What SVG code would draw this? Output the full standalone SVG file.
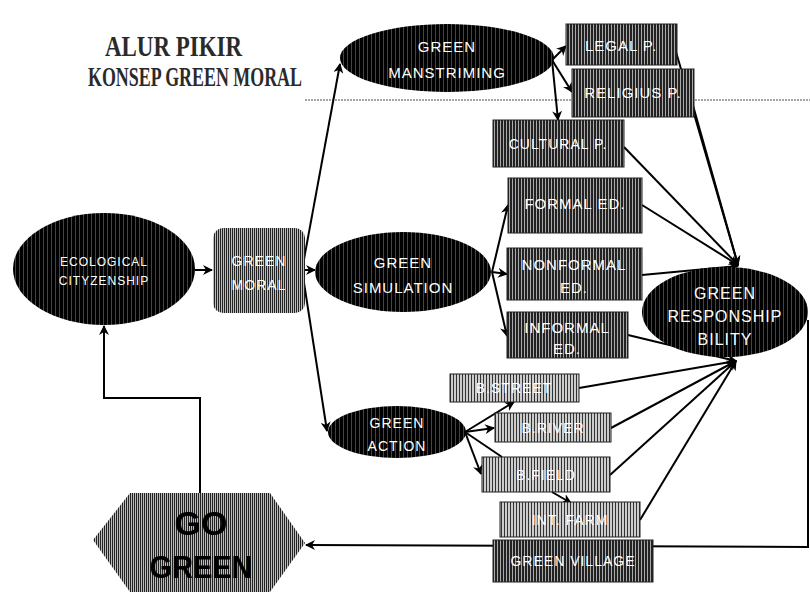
<svg xmlns="http://www.w3.org/2000/svg" width="810" height="611" viewBox="0 0 810 611">
<style>
.ln{stroke:#000;stroke-width:2;fill:none}
.ar{marker-end:url(#ah)}
.wt{fill:#fff;font-family:"Liberation Sans",Arial,sans-serif;text-anchor:middle;letter-spacing:1px}
.bx{stroke:#222;stroke-width:1}
</style>
<defs>
<marker id="ah" viewBox="0 0 10 10" refX="9" refY="5" markerWidth="10" markerHeight="10" markerUnits="userSpaceOnUse" orient="auto">
<path d="M0,0 L10,5 L0,10 L3,5 Z" fill="#000"/>
</marker>
<pattern id="pBlack" width="4" height="4" patternUnits="userSpaceOnUse">
<rect width="4" height="4" fill="#000"/><rect x="3" width="1" height="4" fill="#444"/>
</pattern>
<pattern id="pDark" width="3" height="3" patternUnits="userSpaceOnUse">
<rect width="3" height="3" fill="#aaa"/><rect width="2" height="3" fill="#222"/>
</pattern>
<pattern id="pMid" width="2" height="2" patternUnits="userSpaceOnUse">
<rect width="2" height="2" fill="#bbb"/><rect width="1" height="2" fill="#222"/>
</pattern>
<pattern id="pLight" width="3" height="3" patternUnits="userSpaceOnUse">
<rect width="3" height="3" fill="#ccc"/><rect width="1" height="3" fill="#333"/>
</pattern>
</defs>
<rect width="810" height="611" fill="#fff"/>
<line x1="305" y1="100" x2="810" y2="100" stroke="#888" stroke-width="1.5" stroke-dasharray="2,1"/>

<g id="title" fill="#2a2a2a" font-family="'Liberation Serif','Times New Roman',serif" font-weight="bold">
<text transform="translate(105,56) scale(1,1.35)" font-size="22" textLength="137" lengthAdjust="spacingAndGlyphs">ALUR PIKIR</text>
<text transform="translate(88,86) scale(1,1.5)" font-size="18" textLength="214" lengthAdjust="spacingAndGlyphs">KONSEP GREEN MORAL</text>
</g>

<g id="connectors">
<line class="ln ar" x1="195" y1="270" x2="212" y2="270"/>
<line class="ln ar" x1="305" y1="270" x2="315" y2="270"/>
<line class="ln ar" x1="302" y1="270" x2="340" y2="64"/>
<line class="ln ar" x1="302" y1="270" x2="327" y2="431"/>
<line class="ln ar" x1="552" y1="60" x2="566" y2="46"/>
<line class="ln ar" x1="552" y1="60" x2="572" y2="92"/>
<line class="ln ar" x1="552" y1="60" x2="558" y2="120"/>
<line class="ln ar" x1="492" y1="272" x2="508" y2="205"/>
<line class="ln ar" x1="492" y1="272" x2="507" y2="274"/>
<line class="ln ar" x1="492" y1="272" x2="507" y2="336"/>
<line class="ln ar" x1="674" y1="45" x2="738" y2="265"/>
<line class="ln ar" x1="692" y1="102" x2="738" y2="265"/>
<line class="ln ar" x1="624" y1="147" x2="738" y2="265"/>
<line class="ln ar" x1="642" y1="205" x2="738" y2="265"/>
<line class="ln ar" x1="642" y1="275" x2="738" y2="266"/>
<line class="ln ar" x1="628" y1="335" x2="736" y2="361"/>
<line class="ln ar" x1="579" y1="388" x2="736" y2="361"/>
<line class="ln ar" x1="611" y1="428" x2="736" y2="361"/>
<line class="ln ar" x1="610" y1="475" x2="736" y2="361"/>
<line class="ln ar" x1="640" y1="520" x2="736" y2="361"/>
<line class="ln ar" x1="465" y1="432" x2="514" y2="402"/>
<line class="ln ar" x1="465" y1="432" x2="494" y2="428"/>
<line class="ln" x1="465" y1="432" x2="502" y2="457"/>
<line class="ln ar" x1="465" y1="432" x2="481" y2="474"/>
<line class="ln ar" x1="552" y1="492" x2="571" y2="503"/>
<polyline class="ln ar" points="808,320 808,547 306,545"/>
<polyline class="ln ar" points="200,493 200,398 104,398 104,326"/>
</g>

<g id="eco">
<ellipse cx="104" cy="269" rx="91" ry="56" fill="url(#pBlack)"/>
<text class="wt" x="104" y="266" font-size="12">ECOLOGICAL</text>
<text class="wt" x="104" y="285" font-size="12">CITYZENSHIP</text>
</g>

<g id="greenmoral">
<rect x="213" y="228" width="92" height="85" rx="10" fill="url(#pMid)"/>
<text class="wt" x="259" y="266" font-size="14">GREEN</text>
<text class="wt" x="259" y="290" font-size="14">MORAL</text>
</g>

<g id="mainstriming">
<ellipse cx="447" cy="58" rx="107" ry="34" fill="url(#pBlack)"/>
<text class="wt" x="447" y="52" font-size="15">GREEN</text>
<text class="wt" x="447" y="78" font-size="15">MANSTRIMING</text>
</g>

<g id="legal">
<rect class="bx" x="566" y="24" width="111" height="41" fill="url(#pDark)"/>
<text class="wt" x="621" y="51" font-size="15">LEGAL P.</text>
</g>
<g id="religius">
<rect class="bx" x="572" y="69" width="122" height="48" fill="url(#pDark)"/>
<text class="wt" x="633" y="98" font-size="15">RELIGIUS P.</text>
</g>
<g id="cultural">
<rect class="bx" x="493" y="120" width="131" height="47" fill="url(#pDark)"/>
<text class="wt" x="558" y="149" font-size="14">CULTURAL P.</text>
</g>

<g id="simulation">
<ellipse cx="403" cy="272" rx="88" ry="40" fill="url(#pBlack)"/>
<text class="wt" x="403" y="268" font-size="15">GREEN</text>
<text class="wt" x="403" y="293" font-size="15">SIMULATION</text>
</g>

<g id="formal">
<rect class="bx" x="508" y="178" width="134" height="55" fill="url(#pDark)"/>
<text class="wt" x="575" y="209" font-size="15">FORMAL ED.</text>
</g>
<g id="nonformal">
<rect class="bx" x="507" y="248" width="135" height="52" fill="url(#pDark)"/>
<text class="wt" x="574" y="270" font-size="15">NONFORMAL</text>
<text class="wt" x="574" y="293" font-size="15">ED.</text>
</g>
<g id="informal">
<rect class="bx" x="507" y="312" width="121" height="46" fill="url(#pDark)"/>
<text class="wt" x="567" y="333" font-size="15">INFORMAL</text>
<text class="wt" x="567" y="354" font-size="15">ED.</text>
</g>

<g id="responsibility">
<ellipse cx="725" cy="312" rx="83" ry="45" fill="url(#pBlack)"/>
<text class="wt" x="725" y="299" font-size="16">GREEN</text>
<text class="wt" x="725" y="322" font-size="16">RESPONSHIP</text>
<text class="wt" x="725" y="345" font-size="16">BILITY</text>
</g>

<g id="action">
<ellipse cx="397" cy="432" rx="69" ry="26" fill="url(#pBlack)"/>
<text class="wt" x="397" y="428" font-size="14">GREEN</text>
<text class="wt" x="397" y="451" font-size="14">ACTION</text>
</g>

<g id="bstreet">
<rect class="bx" x="450" y="374" width="129" height="28" fill="url(#pLight)"/>
<text class="wt" x="514" y="393" font-size="14">B.STREET</text>
</g>
<g id="briver">
<rect class="bx" x="495" y="413" width="116" height="29" fill="url(#pLight)"/>
<text class="wt" x="553" y="433" font-size="14">B.RIVER</text>
</g>
<g id="bfield">
<rect class="bx" x="482" y="457" width="128" height="35" fill="url(#pLight)"/>
<text class="wt" x="546" y="480" font-size="14">B.FIELD</text>
</g>
<g id="intfarm">
<rect class="bx" x="500" y="502" width="140" height="35" fill="url(#pLight)"/>
<text class="wt" x="570" y="525" font-size="14">INT. FARM</text>
</g>
<g id="greenvillage">
<rect class="bx" x="493" y="540" width="160" height="42" fill="url(#pDark)"/>
<text class="wt" x="573" y="566" font-size="14">GREEN VILLAGE</text>
</g>

<g id="gogreen">
<polygon points="130,493 270,493 305,543 270,592 130,592 93,540" fill="url(#pMid)"/>
<text x="201" y="535" font-family="'Liberation Sans',Arial,sans-serif" font-weight="bold" font-size="34" text-anchor="middle" fill="#000">GO</text>
<text x="201" y="578" font-family="'Liberation Sans',Arial,sans-serif" font-weight="bold" font-size="32" text-anchor="middle" fill="#000" textLength="103" lengthAdjust="spacingAndGlyphs">GREEN</text>
</g>
</svg>
